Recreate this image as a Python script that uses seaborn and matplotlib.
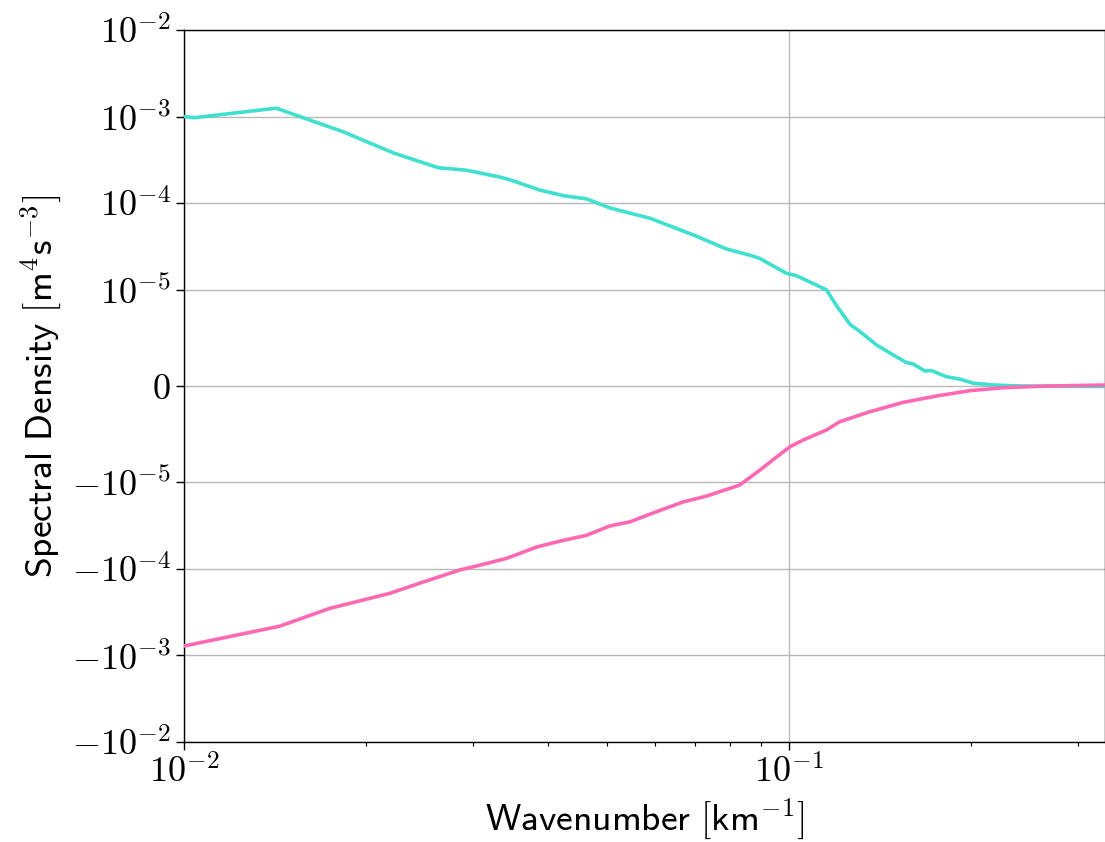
import numpy as np
import pandas as pd
import matplotlib
matplotlib.use("Agg")
import matplotlib.pyplot as plt
import seaborn as sns
from matplotlib.ticker import FixedLocator, NullLocator, FixedFormatter, NullFormatter

# ---- data ----
k_pos = [0.0100, 0.0104, 0.0142, 0.0183, 0.0222, 0.0263, 0.0293, 0.0333, 0.0346, 0.0387,
         0.0424, 0.0463, 0.0506, 0.0589, 0.0695, 0.0789, 0.0863, 0.0895, 0.0990, 0.1030,
         0.1117, 0.1153, 0.1200, 0.1264, 0.1310, 0.1395, 0.1487, 0.1564, 0.1604, 0.1678,
         0.1720, 0.1820, 0.1920, 0.2018, 0.2180, 0.2340, 0.2700, 0.3330]
s_pos = [1.0e-3, 0.97e-3, 1.25e-3, 6.7e-4, 3.8e-4, 2.57e-4, 2.4e-4, 2.0e-4, 1.86e-4, 1.42e-4,
         1.22e-4, 1.12e-4, 8.8e-5, 6.7e-5, 4.3e-5, 2.95e-5, 2.5e-5, 2.3e-5, 1.55e-5, 1.45e-5,
         1.11e-5, 1.0e-5, 8.3e-6, 6.35e-6, 5.66e-6, 4.27e-6, 3.23e-6, 2.43e-6, 2.29e-6, 1.56e-6,
         1.6e-6, 0.97e-6, 0.7e-6, 0.28e-6, 0.1e-6, 0.02e-6, -0.03e-6, -0.05e-6]

k_neg = [0.0100, 0.0144, 0.0174, 0.0219, 0.0245, 0.0286, 0.0308, 0.0341, 0.0383, 0.0418,
         0.0463, 0.0506, 0.0546, 0.0597, 0.0669, 0.0730, 0.0829, 0.0895, 0.0955, 0.1005,
         0.1057, 0.1153, 0.1213, 0.1360, 0.1546, 0.1755, 0.1990, 0.2260, 0.2630, 0.3000, 0.3330]
s_neg = [-7.8e-4, -4.6e-4, -2.87e-4, -1.92e-4, -1.47e-4, -1.03e-4, -9.1e-5, -7.6e-5, -5.6e-5, -4.8e-5,
         -4.1e-5, -3.2e-5, -2.87e-5, -2.26e-5, -1.69e-5, -1.45e-5, -1.08e-5, -8.75e-6, -7.36e-6, -6.3e-6,
         -5.6e-6, -4.58e-6, -3.72e-6, -2.68e-6, -1.7e-6, -1.04e-6, -0.49e-6, -0.18e-6, -0.02e-6, 0.05e-6, 0.1e-6]

y_ticks = [-1e-2, -1e-3, -1e-4, -1e-5, 0, 1e-5, 1e-4, 1e-3, 1e-2]
y_ticklabels = [r"$-10^{-2}$", r"$-10^{-3}$", r"$-10^{-4}$", r"$-10^{-5}$", r"$0$",
                r"$10^{-5}$", r"$10^{-4}$", r"$10^{-3}$", r"$10^{-2}$"]
x_ticks = [0.01, 0.1]
x_ticklabels = [r"$10^{-2}$", r"$10^{-1}$"]
x_minor = [0.02, 0.03, 0.04, 0.05, 0.06, 0.07, 0.08, 0.09, 0.2, 0.3]

xlabel = r"$\mathsf{Wavenumber\ [km}^{-1}\mathsf{]}$"
ylabel = r"$\mathsf{Spectral\ Density\ [m}^{4}\mathsf{s}^{-3}\mathsf{]}$"

# ---- plotting ----
sns.set_style("ticks")
plt.rcParams["font.family"] = ["DejaVu Sans"]
plt.rcParams["mathtext.fontset"] = "cm"
plt.rcParams["text.color"] = "black"
plt.rcParams["axes.labelcolor"] = "black"
plt.rcParams["xtick.color"] = "black"
plt.rcParams["ytick.color"] = "black"

fig = plt.figure(figsize=(11.05, 8.42), dpi=100)
ax = fig.add_axes([0.1665, 0.1188, 0.8335, 0.8456])

df_pos = pd.DataFrame({"k": k_pos, "S": s_pos})
df_neg = pd.DataFrame({"k": k_neg, "S": s_neg})
sns.lineplot(data=df_pos, x="k", y="S", color="#40E0D0", lw=2.6, estimator=None, ax=ax, zorder=3)
sns.lineplot(data=df_neg, x="k", y="S", color="#FF69B4", lw=2.6, estimator=None, ax=ax, zorder=3)

ax.set_xscale("log")
ax.set_yscale("symlog", linthresh=1e-5)
ax.set_xlim(0.01, 0.333)
ax.set_ylim(-1e-2, 1e-2)

ax.yaxis.set_major_locator(FixedLocator(y_ticks))
ax.yaxis.set_major_formatter(FixedFormatter(y_ticklabels))
ax.yaxis.set_minor_locator(NullLocator())
ax.xaxis.set_major_locator(FixedLocator(x_ticks))
ax.xaxis.set_major_formatter(FixedFormatter(x_ticklabels))
ax.xaxis.set_minor_locator(FixedLocator(x_minor))
ax.xaxis.set_minor_formatter(NullFormatter())

ax.grid(True, which="major", color="#b8b8b8", lw=1.0)
ax.tick_params(axis="both", which="major", labelsize=26, length=6, width=1,
               color="black", labelcolor="black")
ax.tick_params(axis="x", which="minor", length=3, width=0.8, color="black")
for sp in ax.spines.values():
    sp.set_color("black")
    sp.set_linewidth(1.0)
    sp.set_visible(True)

ax.set_xlabel(xlabel, fontsize=27, color="black")
ax.set_ylabel(ylabel, fontsize=27, color="black", labelpad=6)

fig.savefig("out.png", dpi=100)
